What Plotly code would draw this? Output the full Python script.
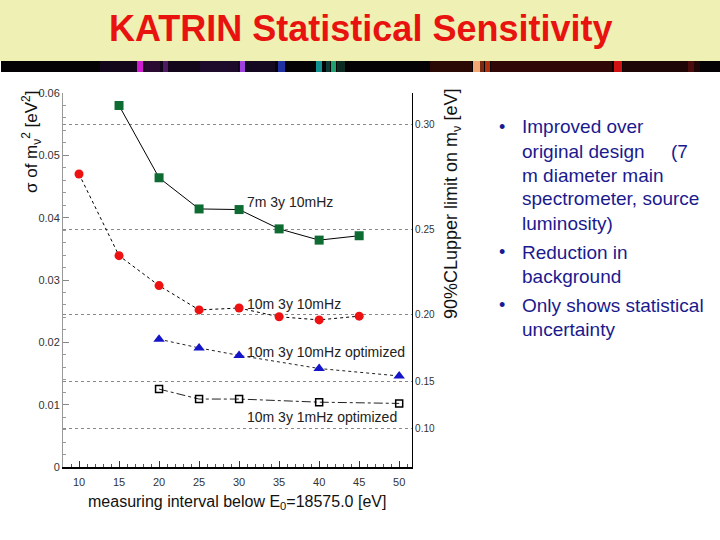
import plotly.graph_objects as go

# ---------------- data ----------------
x_green = [15, 20, 25, 30, 35, 40, 45]
y_green = [0.0580, 0.0464, 0.0414, 0.0413, 0.0382, 0.0364, 0.0371]   # 7m 3y 10mHz

x_red = [10, 15, 20, 25, 30, 35, 40, 45]
y_red = [0.0470, 0.0339, 0.0291, 0.0252, 0.0255, 0.0241, 0.0236, 0.0242]  # 10m 3y 10mHz

x_blue = [20, 25, 30, 40, 50]
y_blue = [0.0205, 0.0191, 0.0179, 0.0158, 0.0146]   # 10m 3y 10mHz optimized

x_black = [20, 25, 30, 40, 50]
y_black = [0.0125, 0.0109, 0.0109, 0.0104, 0.0102]  # 10m 3y 1mHz optimized

series_labels = ["7m 3y 10mHz", "10m 3y 10mHz", "10m 3y 10mHz optimized", "10m 3y 1mHz optimized"]

left_ticks = [0, 0.01, 0.02, 0.03, 0.04, 0.05, 0.06]
left_ticktext = ["0", "0.01", "0.02", "0.03", "0.04", "0.05", "0.06"]
x_ticks = [10, 15, 20, 25, 30, 35, 40, 45, 50]
right_limits = [0.10, 0.15, 0.20, 0.25, 0.30]
right_ticktext = ["0.10", "0.15", "0.20", "0.25", "0.30"]

bullets = [
    ["Improved over", "original design\u00a0\u00a0\u00a0\u00a0\u00a0(7", "m diameter main",
     "spectrometer, source", "luminosity)"],
    ["Reduction in", "background"],
    ["Only shows statistical", "uncertainty"],
]

W, H = 720, 540
def px(x):
    return x / W
def py(y):
    return 1 - y / H

FONT = "Liberation Sans, Arial, sans-serif"

fig = go.Figure()

fig.add_trace(go.Scatter(x=x_green, y=y_green, mode="lines+markers",
                         line=dict(color="black", width=1),
                         marker=dict(symbol="square", size=9, color="#0E6B32"),
                         showlegend=False))
fig.add_trace(go.Scatter(x=x_red, y=y_red, mode="lines+markers",
                         line=dict(color="black", width=1, dash="dot"),
                         marker=dict(symbol="circle", size=9, color="#EE1111"),
                         showlegend=False))
fig.add_trace(go.Scatter(x=x_blue, y=y_blue, mode="lines+markers",
                         line=dict(color="#222", width=1, dash="dot"),
                         marker=dict(symbol="triangle-up", size=10, color="#1414C8"),
                         showlegend=False))
fig.add_trace(go.Scatter(x=x_black, y=y_black, mode="lines+markers",
                         line=dict(color="#222", width=1, dash="dashdot"),
                         marker=dict(symbol="square-open", size=7, color="black",
                                     line=dict(width=1.5, color="black")),
                         showlegend=False))
# invisible trace to activate the right-hand axis
fig.add_trace(go.Scatter(x=x_green, y=y_green, mode="markers", yaxis="y2",
                         marker=dict(opacity=0), hoverinfo="skip", showlegend=False))

right_vals = [m * m / 1.64 for m in right_limits]

fig.update_layout(
    width=W, height=H, autosize=False,
    margin=dict(l=0, r=0, t=0, b=0, autoexpand=False),
    paper_bgcolor="white", plot_bgcolor="white",
    font=dict(family=FONT, color="#333"),
    xaxis=dict(domain=[px(63), px(412)], range=[8.0, 51.6], automargin=False,
               tickvals=x_ticks, ticks="inside", ticklen=6, tickcolor="#333",
               minor=dict(dtick=1, ticks="inside", ticklen=3, tickcolor="#555"),
               showline=True, linecolor="black", linewidth=1.5,
               showgrid=False, zeroline=False, ticklabelstandoff=4,
               tickfont=dict(size=11, color="#333")),
    yaxis=dict(domain=[py(467), py(93)], range=[0, 0.06], automargin=False,
               tickvals=left_ticks, ticktext=left_ticktext,
               ticks="inside", ticklen=6, tickcolor="#888",
               minor=dict(dtick=0.002, ticks="inside", ticklen=3, tickcolor="#999"),
               showline=True, linecolor="#999", linewidth=1,
               showgrid=False, zeroline=False,
               tickfont=dict(size=11, color="#333")),
    yaxis2=dict(overlaying="y", side="right", range=[0, 0.06], automargin=False,
                tickvals=right_vals, ticktext=right_ticktext, ticks="",
                showline=True, linecolor="black", linewidth=1.2,
                showgrid=True, gridcolor="#888", griddash="dot", gridwidth=1,
                zeroline=False, tickfont=dict(size=10, color="#333")),
)

shapes = []
# header
shapes.append(dict(type="rect", xref="paper", yref="paper", x0=0, x1=1, y0=py(61), y1=1,
                   fillcolor="#EEF0B4", line=dict(width=0), layer="below"))
shapes.append(dict(type="rect", xref="paper", yref="paper", x0=px(1), x1=1, y0=py(72), y1=py(61),
                   fillcolor="#050205", line=dict(width=0), layer="below"))
strip = [
    (100, 240, "#14061a"), (137, 143, "#D21CD2"), (145, 160, "#2a0a30"), (163, 168, "#4e1a62"),
    (200, 238, "#1e0a2a"), (240, 245, "#A040E0"), (246, 275, "#140820"), (278, 285, "#2030A0"),
    (316, 322, "#10908E"), (326, 330, "#0c3a36"), (331, 336, "#20A070"), (337, 345, "#0a2a22"),
    (430, 472, "#2a0804"), (473, 480, "#F2A874"), (480, 484, "#7a2a10"), (485, 490, "#B03010"),
    (491, 612, "#300606"), (614, 622, "#D01212"), (623, 700, "#1e0606"), (688, 694, "#4a0c0c"),
]
for a, b, c in strip:
    shapes.append(dict(type="rect", xref="paper", yref="paper", x0=px(a), x1=px(b),
                       y0=py(72), y1=py(61), fillcolor=c, line=dict(width=0), layer="below"))
fig.update_layout(shapes=shapes)

ann = []
ann.append(dict(text="<b>KATRIN Statistical Sensitivity</b>", x=px(360), y=py(29),
                xref="paper", yref="paper", xanchor="center", yanchor="middle",
                showarrow=False, font=dict(size=36, color="#E8120E", family=FONT)))
# series labels
for lab, yy in zip(series_labels, [202, 304, 352, 417]):
    ann.append(dict(text=lab, x=px(245), y=py(yy), xref="paper", yref="paper",
                    xanchor="left", yanchor="middle", showarrow=False,
                    font=dict(size=14, color="#222", family=FONT)))
# axis titles
ann.append(dict(text="σ of m<sub>ν</sub><sup>2</sup> [eV<sup>2</sup>]", x=px(31), y=py(142),
                xref="paper", yref="paper", xanchor="center", yanchor="middle",
                textangle=-90, showarrow=False, font=dict(size=17, color="#111", family=FONT)))
ann.append(dict(text="90%CLupper limit on m<sub>ν</sub> [eV]", x=px(452), y=py(204),
                xref="paper", yref="paper", xanchor="center", yanchor="middle",
                textangle=-90, showarrow=False, font=dict(size=18, color="#111", family=FONT)))
ann.append(dict(text="measuring interval below E<sub>0</sub>=18575.0 [eV]", x=px(237), y=py(502),
                xref="paper", yref="paper", xanchor="center", yanchor="middle",
                showarrow=False, font=dict(size=16, color="#111", family=FONT)))
# bullets
line_y = [[127, 151, 175, 199, 223], [252, 276], [305, 329]]
for lines, ys in zip(bullets, line_y):
    ann.append(dict(text="•", x=px(497), y=py(ys[0]), xref="paper", yref="paper",
                    xanchor="left", yanchor="middle", showarrow=False,
                    font=dict(size=18, color="#1A1A8E", family=FONT)))
    for t, yy in zip(lines, ys):
        ann.append(dict(text=t, x=px(520), y=py(yy), xref="paper", yref="paper",
                        xanchor="left", yanchor="middle", showarrow=False,
                        font=dict(size=19, color="#1A1A8E", family=FONT)))
fig.update_layout(annotations=ann)

fig.write_html("out.html", config={"displayModeBar": False},
               post_script="document.body.style.margin='0';document.body.style.overflow='hidden';")
